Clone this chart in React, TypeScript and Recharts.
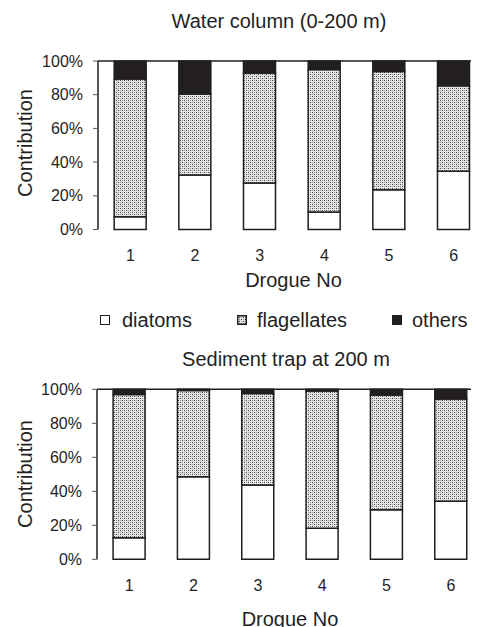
import React from 'react';
import { BarChart, Bar, XAxis, YAxis, ReferenceLine } from 'recharts';

const categories = ['1', '2', '3', '4', '5', '6'];
const waterDiatoms = [7.5, 32.3, 27.6, 10.4, 23.6, 34.5];
const waterFlagellates = [81.8, 48.1, 65.3, 84.6, 70.1, 50.8];
const waterOthers = [10.7, 19.6, 7.1, 5.0, 6.3, 14.7];
const trapDiatoms = [12.7, 48.6, 43.7, 18.2, 29.2, 34.1];
const trapFlagellates = [84.3, 50.7, 53.9, 80.8, 67.4, 60.2];
const trapOthers = [3.0, 0.7, 2.4, 1.0, 3.4, 5.7];
const yTicks = [0, 20, 40, 60, 80, 100];
const edgeTicks = [0, 1, 2, 3, 4, 5, 6];

const FONT = '"Liberation Sans", Arial, sans-serif';
const INK = '#1f1f1f';

const build = (d: number[], f: number[], o: number[]) =>
  categories.map((c, i) => ({ drogue: c, diatoms: d[i], flagellates: f[i], others: o[i] }));

const waterData = build(waterDiatoms, waterFlagellates, waterOthers);
const trapData = build(trapDiatoms, trapFlagellates, trapOthers);

function Panel({ data, width, height, margin, yWidth, xHeight }: any) {
  return (
    <BarChart width={width} height={height} data={data} margin={margin} barCategoryGap="25%">
      <XAxis
        xAxisId="edge"
        type="number"
        domain={[0, 6]}
        ticks={edgeTicks}
        allowDataOverflow
        height={0}
        tick={false}
        tickSize={6}
        tickLine={{ stroke: '#555', strokeWidth: 1 }}
        axisLine={{ stroke: INK, strokeWidth: 1.5 }}
      />
      <XAxis
        xAxisId="cat"
        dataKey="drogue"
        height={xHeight}
        axisLine={false}
        tickLine={false}
        tickSize={0}
        tickMargin={20}
        tick={{ fontSize: 16, fill: INK, fontFamily: FONT }}
      />
      <YAxis
        width={yWidth}
        domain={[0, 100]}
        ticks={yTicks}
        tickFormatter={(v: number) => v + '%'}
        tickSize={5}
        tickMargin={10}
        tickLine={{ stroke: '#555', strokeWidth: 1 }}
        axisLine={{ stroke: INK, strokeWidth: 1.5 }}
        tick={{ fontSize: 16, fill: INK, fontFamily: FONT }}
      />
      <Bar xAxisId="cat" dataKey="diatoms" stackId="s" fill="#ffffff" stroke={INK} strokeWidth={1.5} isAnimationActive={false} />
      <Bar xAxisId="cat" dataKey="flagellates" stackId="s" fill="url(#dots)" stroke={INK} strokeWidth={1.5} isAnimationActive={false} />
      <Bar xAxisId="cat" dataKey="others" stackId="s" fill="#231f20" stroke={INK} strokeWidth={1.5} isAnimationActive={false} />
      <ReferenceLine xAxisId="cat" y={100} stroke={INK} strokeWidth={1.5} />
    </BarChart>
  );
}

const textStyle: React.CSSProperties = {
  position: 'absolute',
  fontFamily: FONT,
  fontSize: 20,
  lineHeight: '20px',
  height: 20,
  color: INK,
  whiteSpace: 'nowrap',
};

function Centered({ cx, top, children }: any) {
  return <div style={{ ...textStyle, left: cx - 200, top, width: 400, textAlign: 'center' }}>{children}</div>;
}

function Vertical({ cx, cy, children }: any) {
  return (
    <div style={{ ...textStyle, left: cx - 100, top: cy - 10, width: 200, textAlign: 'center', transform: 'rotate(-90deg)' }}>
      {children}
    </div>
  );
}

export default function App() {
  return (
    <div style={{ position: 'relative', width: 471, height: 619, overflow: 'hidden', background: '#fff' }}>
      <svg width={0} height={0} style={{ position: 'absolute' }}>
        <defs>
          <pattern id="dots" width={4} height={4} patternUnits="userSpaceOnUse">
            <rect width={4} height={4} fill="#e4e4e4" />
            <rect x={0} y={0} width={1} height={1} fill="#444" />
            <rect x={2} y={2} width={1} height={1} fill="#444" />
            <rect x={2} y={0} width={1} height={1} fill="#999" />
            <rect x={0} y={2} width={1} height={1} fill="#999" />
          </pattern>
        </defs>
      </svg>

      <div style={{ position: 'absolute', left: 0, top: 0 }}>
        <Panel data={waterData} width={490} height={280} margin={{ top: 53, right: 12, bottom: 0, left: 0 }} yWidth={90} xHeight={58.5} />
      </div>
      <div style={{ position: 'absolute', left: 0, top: 330 }}>
        <Panel data={trapData} width={490} height={289} margin={{ top: 51.3, right: 15, bottom: 0, left: 0 }} yWidth={89} xHeight={67.7} />
      </div>

      <Centered cx={271} top={3}>Water column (0-200 m)</Centered>
      <Centered cx={285.5} top={262}>Drogue No</Centered>
      <Vertical cx={17} cy={135}>Contribution</Vertical>

      <div style={{ position: 'absolute', left: 92, top: 307, width: 8, height: 8, border: `1.5px solid ${INK}`, background: '#fff' }} />
      <div style={{ ...textStyle, left: 114, top: 302 }}>diatoms</div>
      <svg width={10} height={10} style={{ position: 'absolute', left: 229, top: 307 }}>
        <rect x={0.75} y={0.75} width={8.5} height={8.5} fill="url(#dots)" stroke={INK} strokeWidth={1.5} />
      </svg>
      <div style={{ ...textStyle, left: 249, top: 302 }}>flagellates</div>
      <div style={{ position: 'absolute', left: 384, top: 307, width: 10, height: 10, background: '#231f20' }} />
      <div style={{ ...textStyle, left: 404, top: 302 }}>others</div>

      <Centered cx={278} top={341}>Sediment trap at 200 m</Centered>
      <Centered cx={282} top={601}>Drogue No</Centered>
      <Vertical cx={17} cy={466}>Contribution</Vertical>
    </div>
  );
}
